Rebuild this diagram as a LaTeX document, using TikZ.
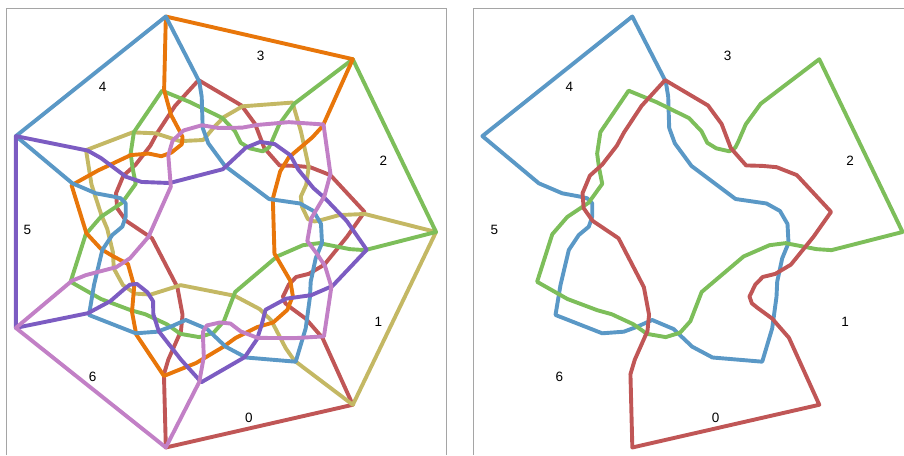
\documentclass[tikz,border=0pt]{standalone}
\usepackage{fontspec}
\setmainfont{Liberation Sans}
\definecolor{cA}{RGB}{192,86,86}
\definecolor{cB}{RGB}{196,184,100}
\definecolor{cC}{RGB}{125,190,90}
\definecolor{cD}{RGB}{232,118,10}
\definecolor{cE}{RGB}{90,152,198}
\definecolor{cF}{RGB}{124,92,194}
\definecolor{cG}{RGB}{194,128,198}
\definecolor{frame}{RGB}{165,165,165}
\def\vennpath{(-49.2,215.5) -- (-15.7,150.3) -- (-13.3,135.3) -- (-12.3,104) -- (-6.7,88.7) -- (10,66) -- (54,33) -- (85,28.5) -- (98.5,21) -- (106,8) -- (107,-11) -- (100.7,-26.3) -- (95.7,-49.7) -- (95,-64.7) -- (90.7,-96.3) -- (80.7,-129.7) -- (31,-125.5) -- (10.7,-114.7) -- (-8,-97) -- (-29.3,-88) -- (-44.3,-94.7) -- (-57.7,-99.7) -- (-79.3,-101.3) -- (-126,-83) -- (-121,-53) -- (-112.7,-18) -- (-102.7,-3) -- (-92.7,5.3) -- (-89.3,15.3) -- (-89.3,28.7) -- (-94.3,33.7) -- (-101,35.3) -- (-119.3,38.7) -- (-142.7,48.7) -- (-199.1,95.9) -- cycle}
\tikzset{
  curve/.style={line width=3.9pt, line join=round, line cap=round},
  lbl/.style={font=\fontsize{13.5}{15}\selectfont, inner sep=0pt},
  framestyle/.style={draw=frame, line width=0.9pt}
}
\begin{document}
\begin{tikzpicture}[x=1pt,y=1pt]
\useasboundingbox (0,0) rectangle (904,455);
% frames
\coordinate (lf1) at (6,0);
\coordinate (lf2) at (6,447);
\coordinate (lf3) at (446,447);
\coordinate (lf4) at (446,0);
\draw[framestyle] (lf1) -- (lf2) -- (lf3) -- (lf4);
\coordinate (rf1) at (473,0);
\coordinate (rf2) at (473,447);
\coordinate (rf3) at (904,447);
\draw[framestyle] (rf1) -- (rf2) -- (rf3);
% left panel: all seven curves
\begin{scope}[shift={(215,223)}]
  \draw[curve, cA, rotate=-205.714] \vennpath;
  \draw[curve, cB, rotate=-154.286] \vennpath;
  \draw[curve, cC, rotate=-102.857] \vennpath;
  \draw[curve, cD, rotate=-51.429] \vennpath;
  \draw[curve, cE] \vennpath;
  \draw[curve, cF, rotate=51.429] \vennpath;
  \draw[curve, cG, rotate=102.857] \vennpath;
\end{scope}
% right panel: three curves
\begin{scope}[shift={(681.5,223)}]
  \draw[curve, cE] \vennpath;
  \draw[curve, cC, rotate=-102.857] \vennpath;
  \draw[curve, cA, rotate=-205.714] \vennpath;
\end{scope}
% labels left
\node[lbl] (L4) at (102.7,367.7) {4};
\node[lbl] (L3) at (260.7,399.3) {3};
\node[lbl] (L2) at (383.3,294.3) {2};
\node[lbl] (L1) at (378.3,133.5) {1};
\node[lbl] (L0) at (249,37.3) {0};
\node[lbl] (L6) at (92.7,78.3) {6};
\node[lbl] (L5) at (27.5,225) {5};
% labels right
\node[lbl] (R4) at (569.3,367.7) {4};
\node[lbl] (R3) at (727.7,399.3) {3};
\node[lbl] (R2) at (850,294.3) {2};
\node[lbl] (R1) at (845,133.5) {1};
\node[lbl] (R0) at (715.7,37.3) {0};
\node[lbl] (R6) at (559.3,78.3) {6};
\node[lbl] (R5) at (494.3,225) {5};
\end{tikzpicture}
\end{document}
